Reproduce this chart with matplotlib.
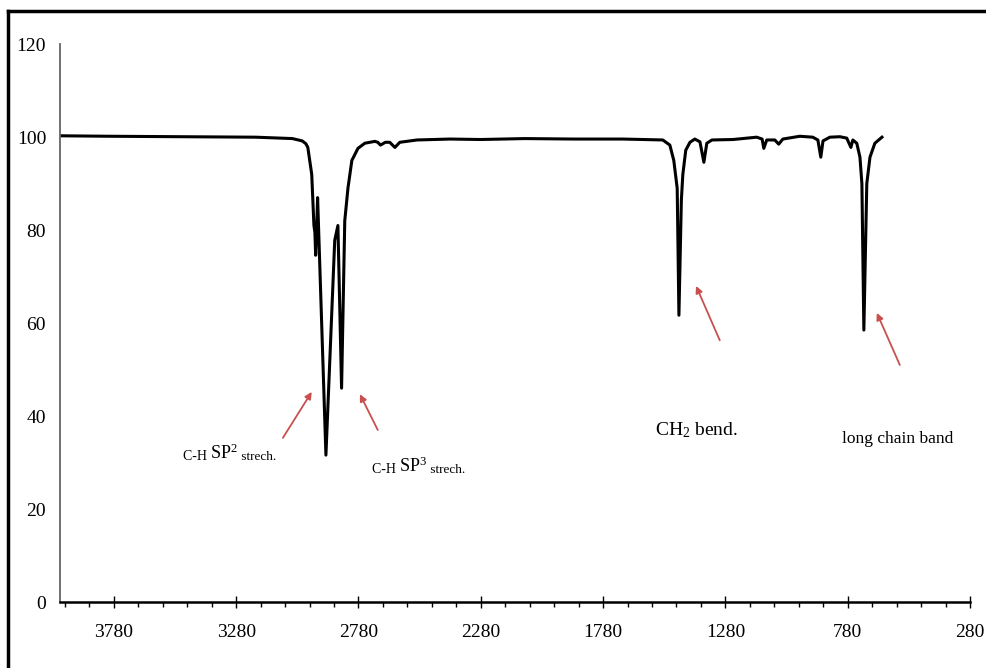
import matplotlib
matplotlib.use('Agg')
import matplotlib.pyplot as plt
from matplotlib.lines import Line2D
from matplotlib.ticker import FixedLocator
import numpy as np

plt.rcParams['font.family'] = ['Liberation Serif', 'DejaVu Serif']
plt.rcParams['mathtext.default'] = 'regular'

# spectrum (wavenumber cm-1, transmittance %)
wavenumber = [4000, 3800, 3500, 3200, 3050, 3010, 2995, 2987, 2971, 2962, 2958, 2955,
              2951, 2947, 2913, 2877, 2864, 2849, 2836, 2823, 2807, 2782, 2754, 2713,
              2701, 2690, 2670, 2652, 2631, 2611, 2541, 2406, 2280, 2100, 1900, 1700,
              1536, 1507, 1491, 1477, 1470, 1460, 1454, 1442, 1425, 1405, 1384, 1368,
              1356, 1335, 1249, 1152, 1130, 1123, 1111, 1078, 1062, 1045, 976, 923,
              902, 890, 881, 853, 812, 784, 767, 759, 743, 730, 722, 714, 702, 689,
              669, 640]
transmittance = [100.3, 100.2, 100.1, 100.0, 99.7, 99.2, 98.6, 97.8, 92.0, 81.0, 79.5, 74.6,
                 80.0, 87.0, 31.6, 77.8, 81.0, 46.0, 82.0, 89.0, 95.0, 97.6, 98.7, 99.1,
                 98.9, 98.3, 98.9, 98.9, 97.8, 98.9, 99.4, 99.6, 99.5, 99.7, 99.6, 99.6,
                 99.4, 98.3, 95.0, 89.0, 61.7, 86.5, 92.0, 97.2, 98.9, 99.6, 99.0, 94.6,
                 98.7, 99.4, 99.5, 100.0, 99.6, 97.6, 99.4, 99.4, 98.5, 99.6, 100.2, 100.0,
                 99.4, 95.7, 99.2, 100.0, 100.1, 99.8, 97.8, 99.4, 98.7, 95.7, 90.0, 58.5,
                 90.0, 95.7, 98.7, 100.0]

x_major = [3780, 3280, 2780, 2280, 1780, 1280, 780, 280]
y_major = [0, 20, 40, 60, 80, 100, 120]

fig = plt.figure(figsize=(9.87, 6.68), dpi=100)
ax = fig.add_axes([0.0608, 0.0988, 0.922, 0.835])

ax.plot(wavenumber, transmittance, color='black', lw=2.2, solid_joinstyle='round')

ax.set_xlim(4000, 280)
ax.set_ylim(0, 120)

ax.xaxis.set_major_locator(FixedLocator(x_major))
ax.xaxis.set_minor_locator(FixedLocator([v for v in range(380, 4000, 100) if v not in x_major]))
ax.set_yticks(y_major)
ax.tick_params(axis='x', which='major', direction='inout', length=8, width=1.0,
               labelsize=14, pad=12, color='black')
ax.tick_params(axis='x', which='minor', direction='out', length=3.5, width=1.0, color='black')
ax.tick_params(axis='y', length=0, labelsize=14, pad=10)

for s in ['top', 'right']:
    ax.spines[s].set_visible(False)
ax.spines['bottom'].set_linewidth(1.8)
ax.spines['left'].set_linewidth(1.3)
ax.spines['left'].set_color('#666666')

# annotations
arrow_kw = dict(arrowstyle='-|>', color='#c8504e', lw=1.3, mutation_scale=10,
                shrinkA=0, shrinkB=0)
ax.annotate('', xy=(2971, 45.2), xytext=(3089, 35.3), arrowprops=arrow_kw)
ax.annotate('', xy=(2774, 44.7), xytext=(2701, 37.0), arrowprops=arrow_kw)
ax.annotate('', xy=(1400, 68.0), xytext=(1303, 56.3), arrowprops=arrow_kw)
ax.annotate('', xy=(661, 62.2), xytext=(567, 51.0), arrowprops=arrow_kw)

def ch_label(x, y, sup):
    t1 = ax.text(x, y, 'C-H ', fontsize=10, va='bottom')
    t2 = ax.annotate('SP$^%s$' % sup, xy=(1, 0), xycoords=t1, fontsize=13, va='bottom')
    ax.annotate(' strech.', xy=(1, 0), xycoords=t2, fontsize=9.5, va='bottom')

ch_label(3498, 30.0, '2')
ch_label(2725, 27.2, '3')

ax.text(1568, 35.9, 'CH$_2$ bend.', fontsize=14, va='baseline')
ax.text(804, 34.2, 'long chain band', fontsize=12.5, va='baseline')

# frame of the original picture (left and top edges)
fig.add_artist(Line2D([8 / 987, 8 / 987], [0, 1 - 11 / 668], transform=fig.transFigure,
                      color='black', lw=2.5))
fig.add_artist(Line2D([8 / 987, 1], [1 - 11 / 668, 1 - 11 / 668], transform=fig.transFigure,
                      color='black', lw=2.5))

plt.savefig('out.png', dpi=100)
